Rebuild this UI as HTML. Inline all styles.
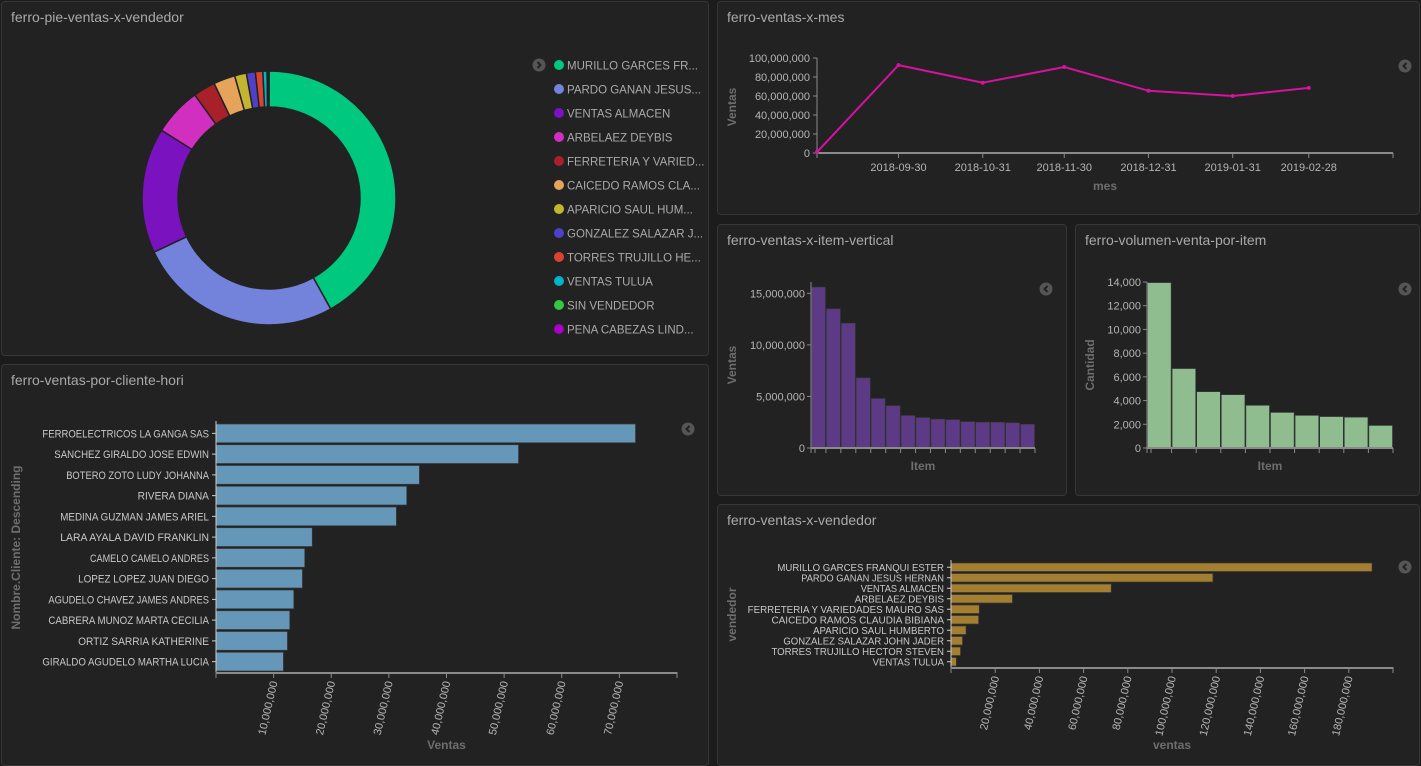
<!DOCTYPE html>
<html><head><meta charset="utf-8">
<style>
html,body{margin:0;padding:0;background:#1c1c1c;width:1421px;height:763px;overflow:hidden;font-family:"Liberation Sans",sans-serif}
.panel{position:absolute;background:#222;border:1px solid #363636;border-radius:4px;box-sizing:border-box}
.ptitle{position:absolute;left:9px;top:7px;font-size:14px;color:#a9a9a9}
svg{position:absolute;left:0;top:0}
text{font-family:"Liberation Sans",sans-serif}
</style></head><body>
<div class="panel" style="left:1px;top:1px;width:708px;height:355px"><div class="ptitle">ferro-pie-ventas-x-vendedor</div></div>
<div class="panel" style="left:717px;top:1px;width:703px;height:214px"><div class="ptitle">ferro-ventas-x-mes</div></div>
<div class="panel" style="left:717px;top:224px;width:350px;height:272px"><div class="ptitle">ferro-ventas-x-item-vertical</div></div>
<div class="panel" style="left:1075px;top:224px;width:345px;height:272px"><div class="ptitle">ferro-volumen-venta-por-item</div></div>
<div class="panel" style="left:1px;top:364px;width:708px;height:402px"><div class="ptitle">ferro-ventas-por-cliente-hori</div></div>
<div class="panel" style="left:717px;top:504px;width:703px;height:262px"><div class="ptitle">ferro-ventas-x-vendedor</div></div>
<svg id="s" width="1421" height="763" xmlns="http://www.w3.org/2000/svg"></svg>
<script>
const pieLabels=["MURILLO GARCES FR...","PARDO GANAN JESUS...","VENTAS ALMACEN","ARBELAEZ DEYBIS","FERRETERIA Y VARIED...","CAICEDO RAMOS CLA...","APARICIO SAUL HUM...","GONZALEZ SALAZAR J...","TORRES TRUJILLO HE...","VENTAS TULUA","SIN VENDEDOR","PENA CABEZAS LIND..."];
const pieValues=[190.5,118.5,72.5,27.8,12.8,12.5,6.8,5.2,4.3,2.4,0.8,0.3];
const pieColors=["#00c97f","#7382db","#7a12c0","#d12fc0","#a8202a","#e6a45a","#c4b531","#4f40c8","#d9432f","#00b4c8","#33c744","#a800c8"];

const monthDates=["2018-08-31","2018-09-30","2018-10-31","2018-11-30","2018-12-31","2019-01-31","2019-02-28"];
const monthValues=[1000000,92500000,74000000,90500000,65500000,60000000,68500000];
const monthTicks=["2018-09-30","2018-10-31","2018-11-30","2018-12-31","2019-01-31","2019-02-28"];
const monthYTicks=[0,20000000,40000000,60000000,80000000,100000000];

const itemValues=[15600000,13500000,12100000,6800000,4800000,4100000,3150000,2950000,2800000,2750000,2550000,2500000,2500000,2450000,2300000];
const itemYTicks=[0,5000000,10000000,15000000];

const volValues=[13950,6700,4750,4500,3600,3000,2750,2650,2600,1900];
const volYTicks=[0,2000,4000,6000,8000,10000,12000,14000];

const clientNames=["FERROELECTRICOS LA GANGA SAS","SANCHEZ GIRALDO JOSE EDWIN","BOTERO ZOTO LUDY JOHANNA","RIVERA DIANA","MEDINA GUZMAN JAMES ARIEL","LARA AYALA DAVID FRANKLIN","CAMELO CAMELO ANDRES","LOPEZ LOPEZ JUAN DIEGO","AGUDELO CHAVEZ JAMES ANDRES","CABRERA MUNOZ MARTA CECILIA","ORTIZ SARRIA KATHERINE","GIRALDO AGUDELO MARTHA LUCIA"];
const clientValues=[72800000,52500000,35300000,33100000,31300000,16700000,15400000,15000000,13500000,12800000,12400000,11700000];
const clientXTicks=[10000000,20000000,30000000,40000000,50000000,60000000,70000000];

const vendorNames=["MURILLO GARCES FRANQUI ESTER","PARDO GANAN JESUS HERNAN","VENTAS ALMACEN","ARBELAEZ DEYBIS","FERRETERIA Y VARIEDADES MAURO SAS","CAICEDO RAMOS CLAUDIA BIBIANA","APARICIO SAUL HUMBERTO","GONZALEZ SALAZAR JOHN JADER","TORRES TRUJILLO HECTOR STEVEN","VENTAS TULUA"];
const vendorValues=[190500000,118500000,72500000,27800000,12800000,12500000,6800000,5200000,4300000,2400000];
const vendorXTicks=[20000000,40000000,60000000,80000000,100000000,120000000,140000000,160000000,180000000];

const S=document.getElementById('s');
const NS="http://www.w3.org/2000/svg";
function mk(tag,attrs,parent){const e=document.createElementNS(NS,tag);for(const k in attrs)e.setAttribute(k,attrs[k]);(parent||S).appendChild(e);return e;}
function fmt(v){return v.toLocaleString('en-US');}
const TICK="#b5b5b5",AX="#8a8a8a",TITLE="#6e6e6e";

function chev(cx,cy,right,name){
  const g=mk('g',{});
  
  
  mk('circle',{cx:cx,cy:cy,r:6.5,fill:'#555'},g);
  const d=right?`M${cx-1.5},${cy-3} L${cx+1.5},${cy} L${cx-1.5},${cy+3}`:`M${cx+1.5},${cy-3} L${cx-1.5},${cy} L${cx+1.5},${cy+3}`;
  mk('path',{d:d,stroke:'#222',"stroke-width":2,fill:'none'},g);
}
chev(539,65,true,'legend-toggle');
chev(1405,66,false,'line-legend-toggle');
chev(1046,289,false,'item-legend-toggle');
chev(1405,289,false,'volume-legend-toggle');
chev(688,429,false,'client-legend-toggle');
chev(1405,567,false,'vendor-legend-toggle');

// PIE
(function(){
  const cx=269,cy=198,R=127,r=91;
  const tot=pieValues.reduce((a,b)=>a+b,0);
  let a0=0;
  pieValues.forEach((v,i)=>{
    const a1=a0+v/tot*2*Math.PI;
    const p=(a,rr)=>[cx+rr*Math.sin(a),cy-rr*Math.cos(a)];
    const [x1,y1]=p(a0,R),[x2,y2]=p(a1,R),[x3,y3]=p(a1,r),[x4,y4]=p(a0,r);
    const lg=(a1-a0)>Math.PI?1:0;
    const e=mk('path',{d:`M${x1},${y1} A${R},${R} 0 ${lg} 1 ${x2},${y2} L${x3},${y3} A${r},${r} 0 ${lg} 0 ${x4},${y4} Z`,fill:pieColors[i],stroke:'#222','stroke-width':1.5});
    
    
    a0=a1;
  });
  pieLabels.forEach((l,i)=>{
    const y=65+i*24;
    const g=mk('g',{});
    
    
    mk('circle',{cx:559,cy:y,r:5,fill:pieColors[i]},g);
    const t=mk('text',{x:567,y:y+4.5,fill:'#a9a9a9','font-size':11.5},g);t.textContent=l;
  });
})();

// LINE
(function(){
  const x0=817,x1=1393,y0=153,y1=58;
  const d0=Date.parse("2018-08-31"),d1=Date.parse("2019-03-31");
  const X=d=>x0+(Date.parse(d)-d0)/(d1-d0)*(x1-x0);
  const Y=v=>y0-v/100000000*(y0-y1);
  mk('line',{x1:x0,y1:y0,x2:x1,y2:y0,stroke:AX,'stroke-width':2});
  mk('line',{x1:x0,y1:y0,x2:x0,y2:y1,stroke:AX,'stroke-width':1});
  monthYTicks.forEach(v=>{mk('line',{x1:x0-4,x2:x0,y1:Y(v),y2:Y(v),stroke:AX});const t=mk('text',{x:x0-7,y:Y(v)+4,fill:TICK,'font-size':11,'text-anchor':'end'});t.textContent=fmt(v);});
  mk('line',{x1:x0,x2:x0,y1:y0,y2:y0+5,stroke:AX});mk('line',{x1:x1,x2:x1,y1:y0,y2:y0+5,stroke:AX});
  monthTicks.forEach(d=>{mk('line',{x1:X(d),x2:X(d),y1:y0,y2:y0+5,stroke:AX});const t=mk('text',{x:X(d),y:y0+18,fill:TICK,'font-size':11,'text-anchor':'middle'});t.textContent=d;});
  const pts=monthDates.map((d,i)=>X(d)+','+Y(monthValues[i])).join(' ');
  const pl=mk('polyline',{points:pts,fill:'none',stroke:'#d6129f','stroke-width':2});
  
  monthDates.forEach((d,i)=>{const c=mk('circle',{cx:X(d),cy:Y(monthValues[i]),r:2,fill:'#d6129f'});});
  let t=mk('text',{x:1105,y:190,fill:TITLE,'font-size':12,'font-weight':'bold','text-anchor':'middle'});t.textContent='mes';
  t=mk('text',{x:0,y:0,fill:TITLE,'font-size':12,'font-weight':'bold','text-anchor':'middle',transform:'translate(736,107) rotate(-90)'});t.textContent='Ventas';
})();

// VERTICAL BARS
function vbars(vals,yt,max,x0,x1,y0,y1,color,yTitle,titleX,name){
  const Y=v=>y0-v/max*(y0-y1);
  const bw=(x1-x0)/vals.length;
  vals.forEach((v,i)=>{const r=mk('rect',{x:x0+i*bw+0.5,y:Y(v),width:bw-1,height:y0-Y(v),fill:color,stroke:'#3a3a3a','stroke-width':0.6});});
  mk('line',{x1:x0,y1:y0,x2:x1,y2:y0,stroke:AX,'stroke-width':2});
  mk('line',{x1:x0,y1:y0,x2:x0,y2:y1,stroke:AX});
  yt.forEach(v=>{mk('line',{x1:x0-4,x2:x0,y1:Y(v),y2:Y(v),stroke:AX});const t=mk('text',{x:x0-6,y:Y(v)+4,fill:TICK,'font-size':11,'text-anchor':'end'});t.textContent=fmt(v);});
  mk('line',{x1:x0+4,x2:x0+4,y1:y0,y2:y0+5,stroke:AX});
  for(let i=0;i<=vals.length;i++){const x=x0+i*bw;mk('line',{x1:x,x2:x,y1:y0,y2:y0+5,stroke:AX});}
  let t=mk('text',{x:(x0+x1)/2,y:y0+22,fill:TITLE,'font-size':12,'font-weight':'bold','text-anchor':'middle'});t.textContent='Item';
  t=mk('text',{x:0,y:0,fill:TITLE,'font-size':12,'font-weight':'bold','text-anchor':'middle',transform:`translate(${titleX},${(y0+y1)/2}) rotate(-90)`});t.textContent=yTitle;
}
vbars(itemValues,itemYTicks,16100000,811,1035,448,282,'#5d3a86','Ventas',736,'item');
vbars(volValues,volYTicks,14000,1147,1393,448,282,'#8fbd8f','Cantidad',1094,'volume');

// HORIZONTAL BARS
function hbars(names,vals,xt,max,x0,x1,yTop,yBot,color,fs,xTitle,yTitle,yTitleX,name,tw,titleOff){
  const X=v=>x0+v/max*(x1-x0);
  const bh=(yBot-yTop)/vals.length;
  vals.forEach((v,i)=>{
    const y=yTop+i*bh;
    const r=mk('rect',{x:x0,y:y+1,width:X(v)-x0,height:bh-2,fill:color,stroke:'#3a3a3a','stroke-width':0.7});
    
    mk('line',{x1:x0-4,x2:x0,y1:y+bh/2,y2:y+bh/2,stroke:'#ccc'});
    const t=mk('text',{x:x0-7,y:y+bh/2+fs*0.36,fill:'#c8c8c8','font-size':fs,'text-anchor':'end',textLength:names[i].length*tw,lengthAdjust:'spacingAndGlyphs'});t.textContent=names[i];
  });
  mk('line',{x1:x0,y1:yTop-2,x2:x0,y2:yBot+1,stroke:'#ccc'});
  mk('line',{x1:x0,y1:yBot+1,x2:x1,y2:yBot+1,stroke:AX,'stroke-width':2});
  mk('line',{x1:x0,x2:x0,y1:yBot,y2:yBot+6,stroke:AX});mk('line',{x1:x1,x2:x1,y1:yBot,y2:yBot+6,stroke:AX});
  xt.forEach(v=>{mk('line',{x1:X(v),x2:X(v),y1:yBot,y2:yBot+6,stroke:AX});const t=mk('text',{x:0,y:0,fill:TICK,'font-size':11,'text-anchor':'end',transform:`translate(${X(v)+4},${yBot+10}) rotate(-77)`});t.textContent=fmt(v);});
  let t=mk('text',{x:(x0+x1)/2,y:yBot+titleOff,fill:TITLE,'font-size':12,'font-weight':'bold','text-anchor':'middle'});t.textContent=xTitle;
  t=mk('text',{x:0,y:0,fill:TITLE,'font-size':12,'font-weight':'bold','text-anchor':'middle',transform:`translate(${yTitleX},${(yTop+yBot)/2}) rotate(-90)`});t.textContent=yTitle;
}
hbars(clientNames,clientValues,clientXTicks,80000000,216,677,423,672,'#6598b8',11,'Ventas','Nombre.Cliente: Descending',20,'client',5.95,77);
hbars(vendorNames,vendorValues,vendorXTicks,200000000,951,1393,562,667,'#a47f30',10.5,'ventas','vendedor',736,'vendor',5.95,82);
</script>
</body></html>
